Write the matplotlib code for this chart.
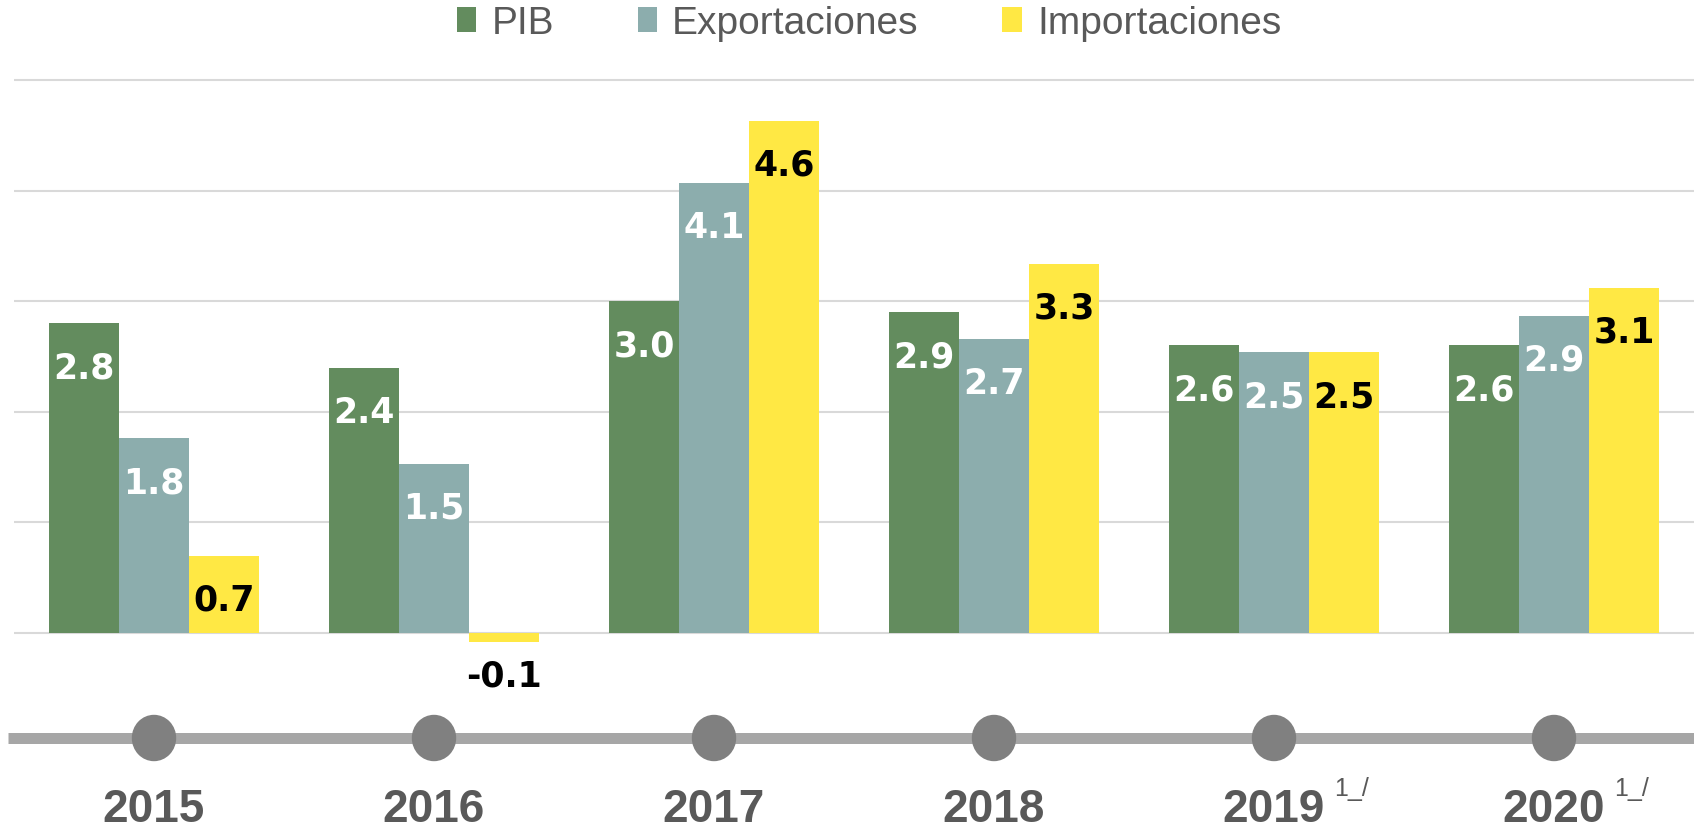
import matplotlib
matplotlib.use("Agg")
import matplotlib.pyplot as plt
from matplotlib.patches import Patch, Ellipse

years = ["2015", "2016", "2017", "2018", "2019", "2020"]
year_notes = ["", "", "", "", "1_/", "1_/"]
series_names = ["PIB", "Exportaciones", "Importaciones"]
pib = [2.8, 2.4, 3.0, 2.9, 2.6, 2.6]
exportaciones = [1.76, 1.53, 4.07, 2.66, 2.54, 2.87]
importaciones = [0.7, -0.08, 4.63, 3.34, 2.54, 3.12]
colors = ["#638C5E", "#8CADAD", "#FFE844"]
label_colors = ["white", "white", "black"]

W, H = 1694, 829
fig = plt.figure(figsize=(W / 100, H / 100), dpi=100)

# main axes
x_left_px, x_right_px = 14, 1694
zero_px, unit_px = 634, 110.6
y_top, y_bot = 5.05, -0.6
top_px = zero_px - y_top * unit_px
bot_px = zero_px - y_bot * unit_px
ax = fig.add_axes([x_left_px / W, 1 - bot_px / H,
                   (x_right_px - x_left_px) / W, (bot_px - top_px) / H])
ax.set_xlim(-0.5, len(years) - 0.5)
ax.set_ylim(y_bot, y_top)
ax.set_yticks([0, 1, 2, 3, 4, 5])
ax.yaxis.grid(True, color="#D9D9D9", linewidth=1.5)
ax.set_axisbelow(True)
ax.tick_params(left=False, bottom=False, labelleft=False, labelbottom=False)
for s in ax.spines.values():
    s.set_visible(False)

width = 0.25
data = [pib, exportaciones, importaciones]
for j, (vals, c, lc) in enumerate(zip(data, colors, label_colors)):
    xs = [i + (j - 1) * width for i in range(len(years))]
    ax.bar(xs, vals, width=width, color=c, edgecolor="none", zorder=2)
    for x, v in zip(xs, vals):
        txt = f"{v:.1f}"
        if v >= 0:
            ax.annotate(txt, (x, v), xytext=(0, -54), textcoords="offset pixels",
                        ha="center", va="baseline", fontsize=25, fontweight="bold",
                        family=["DejaVu Sans"], color=lc, zorder=3)
        else:
            ax.annotate(txt, (x, v), xytext=(0, -44), textcoords="offset pixels",
                        ha="center", va="baseline", fontsize=25, fontweight="bold",
                        family=["DejaVu Sans"], color="black", zorder=3)

# timeline axes
tl_h = 160
tax = fig.add_axes([x_left_px / W, 0, (x_right_px - x_left_px) / W, tl_h / H])
tax.set_xlim(-0.5, len(years) - 0.5)
tax.set_ylim(0, tl_h)
tax.axis("off")
px_per_unit = (x_right_px - x_left_px) / len(years)
line_y = 90
tax.plot([-0.5 + (7.6 - x_left_px) / px_per_unit, len(years) - 0.5], [line_y, line_y],
         color="#A6A6A6", linewidth=11 * 0.72, solid_capstyle="butt", clip_on=False, zorder=1)
for i, (yr, note) in enumerate(zip(years, year_notes)):
    tax.add_patch(Ellipse((i, line_y), 43 / px_per_unit, 45, color="#808080", zorder=2))
    tax.text(i, 7, yr, ha="center", va="baseline", fontsize=33, fontweight="bold",
             family=["Liberation Sans"], color="#595959")
    if note:
        tax.text(i + 60 / px_per_unit, 33, note, ha="left", va="baseline", fontsize=18,
                 family=["Liberation Sans"], color="#595959")

handles = [Patch(facecolor=c, edgecolor="none", label=n) for c, n in zip(colors, series_names)]
fig.legend(handles=handles, loc="center", bbox_to_anchor=(0.513, 0.971), ncol=3,
           frameon=False, prop={"family": "Liberation Sans", "size": 28},
           labelcolor="#595959", handlelength=0.5, handleheight=0.62,
           handletextpad=0.39, columnspacing=2.15)

fig.savefig("out.png", dpi=100)
